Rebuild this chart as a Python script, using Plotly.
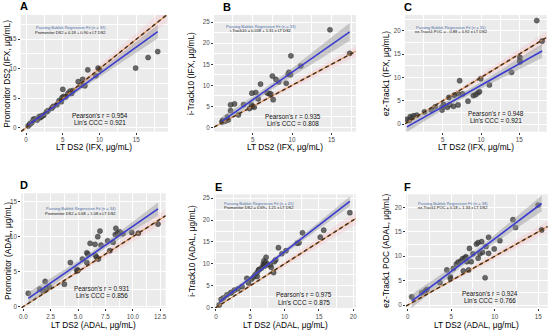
import numpy as np
import plotly.graph_objects as go

W, H = 550, 331

# ---------------- data ----------------
a_lt = [0.3, 0.5, 0.6, 0.8, 1.0, 1.2, 1.5, 1.8, 1.9, 2.0, 2.1, 2.2, 2.4, 2.8, 3.0, 3.5, 3.7, 4.2, 4.5, 4.8,
        4.9, 5.0, 5.1, 5.4, 5.7, 6.0, 6.2, 6.4, 7.1, 7.5, 7.7, 8.0, 8.4, 9.5, 9.8, 10.0, 14.9, 16.6, 17.9]
a_val = [0.3, 0.6, 0.7, 0.9, 1.4, 1.5, 1.3, 1.9, 1.7, 1.8, 2.0, 2.0, 2.1, 2.7, 2.9, 3.3, 3.6, 3.9, 4.6, 4.4,
         5.1, 6.5, 5.3, 5.2, 5.8, 6.2, 5.8, 6.3, 7.8, 7.2, 8.2, 7.1, 9.8, 8.8, 10.1, 9.9, 10.1, 11.9, 12.9]

b_lt = [1.1, 1.2, 1.5, 1.8, 1.9, 2.2, 2.2, 2.7, 3.2, 3.85, 4.6, 4.85, 4.9, 5.0, 5.2, 5.4, 5.7, 6.0, 6.85, 7.1,
        7.3, 7.5, 7.6, 7.95, 8.3, 9.25, 9.5, 9.6, 9.8, 9.85, 11.1, 14.8, 17.3]
b_val = [1.3, 1.7, 1.5, 2.5, 1.8, 4.0, 5.4, 5.6, 3.0, 5.45, 4.5, 5.4, 8.15, 5.0, 4.8, 8.3, 6.8, 10.3, 8.2, 8.0,
         8.0, 12.2, 6.6, 11.4, 10.8, 10.5, 12.6, 13.1, 12.5, 17.0, 14.6, 23.2, 17.6]

c_lt = [0.3, 0.6, 0.75, 1.0, 1.2, 1.6, 2.6, 3.5, 4.0, 4.9, 4.9, 5.1, 5.3, 5.6, 5.8, 5.9, 6.4, 6.5, 7.0, 7.0,
        7.2, 7.6, 8.3, 9.0, 9.3, 9.6, 9.8, 9.96, 11.1, 14.0, 15.1, 15.1, 15.1, 17.3, 18.0]
c_val = [1.0, 0.8, 1.6, 1.4, 1.8, 1.9, 2.6, 3.0, 3.7, 3.0, 3.6, 4.2, 3.9, 3.6, 5.7, 4.15, 3.8, 6.2, 4.1, 6.5,
         9.3, 6.45, 4.9, 6.1, 6.3, 6.7, 6.95, 9.7, 8.4, 11.1, 14.3, 13.6, 13.3, 22.2, 17.8]

d_lt = [0.46, 1.5, 1.8, 2.0, 2.1, 2.4, 3.75, 4.3, 4.9, 4.9, 5.0, 5.4, 5.8, 5.8, 5.9, 6.1, 6.55, 6.6, 6.7, 6.8,
        6.85, 7.0, 7.1, 7.7, 7.9, 8.2, 8.4, 8.45, 8.6, 8.8, 9.1, 9.9, 10.5, 12.3]
d_val = [1.9, 2.5, 2.2, 3.6, 2.6, 2.8, 3.2, 6.3, 5.3, 5.1, 5.2, 6.8, 7.7, 6.3, 7.5, 9.05, 8.9, 7.3, 7.05, 10.0,
         6.8, 10.8, 8.8, 9.4, 8.0, 9.2, 10.3, 11.2, 10.5, 10.7, 10.4, 10.6, 10.5, 11.8]

e_lt = [0.48, 0.75, 1.1, 1.6, 2.1, 2.3, 2.7, 3.2, 3.8, 4.5, 4.75, 5.2, 5.5, 5.7, 6.0, 6.0, 6.2, 6.3, 6.6, 6.9,
        6.9, 7.0, 7.1, 7.2, 7.3, 7.3, 7.5, 7.9, 8.05, 8.4, 8.5, 8.7, 9.1, 9.6, 10.2, 11.8, 12.1, 12.6, 15.2,
        15.7, 19.5]
e_val = [0.6, 1.9, 2.2, 2.9, 3.3, 3.5, 4.0, 4.3, 4.8, 6.7, 5.6, 6.55, 7.0, 7.5, 7.1, 8.0, 8.6, 8.7, 9.0, 9.6,
         10.0, 10.7, 9.5, 10.0, 11.5, 10.3, 9.8, 9.75, 9.2, 8.0, 10.5, 10.9, 13.7, 12.3, 13.0, 14.7, 14.8, 17.1,
         16.1, 17.7, 21.7]

f_lt = [0.46, 1.6, 2.0, 2.2, 3.7, 4.5, 4.9, 4.9, 5.25, 5.6, 5.8, 6.1, 6.3, 6.4, 6.6, 6.65, 6.7, 6.8, 7.0, 7.1,
        7.3, 7.5, 7.9, 8.1, 8.1, 8.3, 8.5, 8.6, 8.9, 9.0, 9.3, 9.3, 9.95, 10.6, 12.1, 12.4, 15.0, 15.4]
f_val = [1.7, 2.5, 2.9, 3.2, 4.6, 7.2, 5.8, 5.4, 7.5, 8.4, 8.8, 9.0, 9.5, 7.0, 9.6, 9.75, 9.9, 8.9, 7.2, 11.6,
         8.9, 10.5, 12.5, 12.8, 9.6, 10.5, 13.0, 10.8, 5.6, 12.0, 13.9, 10.6, 11.5, 13.2, 17.5, 15.9, 20.5, 15.4]

panel_letters = ["A", "B", "C", "D", "E", "F"]
n_labels = [39, 33, 35, 34, 41, 38]
intercepts = [0.18, 0.018, -0.88, 0.68, 0.69, 0.18]
slopes = [0.90, 1.31, 0.92, 1.08, 1.21, 1.34]
eq_labels = ["Promonitor DS2 = 0.18 + 0.90 x LT DS2",
             "i-Track10 = 0.018 + 1.31 x LT DS2",
             "ez-Track1 POC = - 0.88 + 0.92 x LT DS2",
             "Promonitor DS2 = 0.68 + 1.08 x LT DS2",
             "Promonitor DS2 = 0.69+ 1.21 x LT DS2",
             "ez-Track1 POC = 0.18 + 1.34 x LT DS2"]
pearson_r = ["0.954", "0.935", "0.948", "0.931", "0.975", "0.924"]
lins_ccc = ["0.921", "0.808", "0.921", "0.856", "0.875", "0.766"]
x_titles = ["LT DS2 (IFX, μg/mL)"] * 3 + ["LT DS2 (ADAL, μg/mL)"] * 3
y_titles = ["Promonitor DS2 (IFX, μg/mL)", "i-Track10 (IFX, μg/mL)", "ez-Track1 (IFX, μg/mL)",
            "Promonitor (ADAL, μg/mL)", "i-Track10 (ADAL, μg/mL)", "ez-Track1 POC (ADAL, μg/mL)"]
x_ticks = [[0, 5, 10, 15], [0, 5, 10, 15], [0, 5, 10, 15], [0, 2.5, 5, 7.5, 10, 12.5], [0, 5, 10, 15, 20], [0, 5, 10, 15]]
y_ticks = [[0, 5, 10, 15], [0, 5, 10, 15, 20, 25], [0, 5, 10, 15, 20], [0, 5, 10, 15], [0, 5, 10, 15, 20, 25],
           [0, 5, 10, 15, 20]]

xs_all = [a_lt, b_lt, c_lt, d_lt, e_lt, f_lt]
ys_all = [a_val, b_val, c_val, d_val, e_val, f_val]

# ---------------- layout geometry (pixels) ----------------
boxes = [(20.7, 15, 168, 131.7), (214, 15, 356, 131.7), (405, 15, 546.7, 131.7),
         (21.3, 193.3, 165.7, 308), (214, 194.3, 356, 308), (406, 194.3, 547.7, 308)]
x_ranges = [[-0.72, 19.3], [0.1, 18.1], [0.05, 18.6], [-0.18, 13.0], [-0.29, 20.4], [-0.2, 16.1]]
y_ranges = [[-0.68, 19.1], [-1.0, 26.7], [-1.65, 23.4], [-0.2, 16.2], [-0.1, 25.9], [-0.6, 22.7]]
letter_pos = [(24, 6), (226.7, 6.7), (408.3, 6.7), (24, 185), (218.3, 186.7), (407.7, 186.7)]
ytitle_x = [7.3, 191.7, 386.7, 7.3, 191.7, 385.7]
xtitle_dy = [15.5, 15.5, 15.5, 16.5, 16.5, 16.5]
pb_pos = [(0.34, 0.89, 0.852), (0.332, 0.90, 0.866), (0.325, 0.894, 0.86),
          (0.41, 0.87, 0.827), (0.316, 0.922, 0.887), (0.333, 0.922, 0.887)]
pr_pos = [(0.538, 0.14, 0.08), (0.555, 0.134, 0.074), (0.64, 0.155, 0.095),
          (0.559, 0.17, 0.108), (0.632, 0.115, 0.052), (0.594, 0.128, 0.066)]

FONT = "Liberation Sans, Arial, sans-serif"
fig = go.Figure()
annotations = []
layout = dict(width=W, height=H, margin=dict(l=0, r=0, t=0, b=0, autoexpand=False), paper_bgcolor="white",
              plot_bgcolor="#EBEBEB", showlegend=False, font=dict(family=FONT))


def note(**kw):
    base = dict(showarrow=False, xanchor="center", yanchor="middle")
    base.update(kw)
    annotations.append(base)


for i in range(6):
    k = "" if i == 0 else str(i + 1)
    xr, yr = x_ranges[i], y_ranges[i]
    l, t, r, b = boxes[i]
    x = np.array(xs_all[i], dtype=float)
    y = np.array(ys_all[i], dtype=float)
    a0, b0 = intercepts[i], slopes[i]

    # pink band around identity line
    lo = max(xr[0], yr[0]); hi = min(xr[1], yr[1])
    idx = np.linspace(lo, hi, 2)
    fig.add_trace(go.Scatter(x=np.concatenate([idx, idx[::-1]]),
                             y=np.concatenate([idx * 1.07, (idx * 0.93)[::-1]]),
                             fill="toself", fillcolor="rgba(255,170,180,0.22)", line=dict(width=0),
                             mode="lines", hoverinfo="skip", xaxis="x" + k, yaxis="y" + k))
    # points
    fig.add_trace(go.Scatter(x=x, y=y, mode="markers",
                             marker=dict(size=5.2, color="rgba(65,65,65,0.78)",
                                         line=dict(width=0.4, color="rgba(30,30,30,0.8)")),
                             xaxis="x" + k, yaxis="y" + k))
    # confidence ribbon around the regression line
    n = len(x)
    res = y - (a0 + b0 * x)
    s = np.sqrt(np.sum(res ** 2) / (n - 2))
    xbar = x.mean(); sxx = np.sum((x - xbar) ** 2)
    xs = np.linspace(x.min(), x.max(), 80)
    hw = 2.03 * s * np.sqrt(1.0 / n + (xs - xbar) ** 2 / sxx)
    c = a0 + b0 * xs
    fig.add_trace(go.Scatter(x=np.concatenate([xs, xs[::-1]]), y=np.concatenate([c + hw, (c - hw)[::-1]]),
                             fill="toself", fillcolor="rgba(150,150,150,0.45)", line=dict(width=0),
                             mode="lines", hoverinfo="skip", xaxis="x" + k, yaxis="y" + k))
    # identity line (solid tan under dark dashes)
    fig.add_trace(go.Scatter(x=idx, y=idx, mode="lines", line=dict(color="rgba(215,140,70,0.9)", width=1.1),
                             xaxis="x" + k, yaxis="y" + k))
    fig.add_trace(go.Scatter(x=idx, y=idx, mode="lines",
                             line=dict(color="#4a3018", width=1.5, dash="4px,3px"),
                             xaxis="x" + k, yaxis="y" + k))
    # Passing-Bablok line
    fig.add_trace(go.Scatter(x=xs, y=c, mode="lines", line=dict(color="#3b3bd0", width=1.6),
                             xaxis="x" + k, yaxis="y" + k))

    ax = dict(domain=[l / W, r / W], range=xr, anchor="y" + k, tickvals=x_ticks[i],
              ticktext=[("%.1f" % v) if i == 3 else ("%g" % v) for v in x_ticks[i]],
              showgrid=True, gridcolor="white", gridwidth=0.9, zeroline=False, automargin=False,
              ticks="outside", ticklen=2, tickwidth=0.8, tickcolor="#333333",
              tickfont=dict(size=6.3, color="#4D4D4D", family=FONT),
              minor=dict(tickvals=[(x_ticks[i][j] + x_ticks[i][j + 1]) / 2 for j in range(len(x_ticks[i]) - 1)]
                         + [x_ticks[i][-1] + (x_ticks[i][1] - x_ticks[i][0]) / 2],
                         showgrid=True, gridcolor="white", gridwidth=0.45, ticks=""),
              showline=False)
    ay = dict(domain=[1 - b / H, 1 - t / H], range=yr, anchor="x" + k, tickvals=y_ticks[i],
              showgrid=True, gridcolor="white", gridwidth=0.9, zeroline=False, automargin=False,
              ticks="outside", ticklen=2, tickwidth=0.8, tickcolor="#333333",
              tickfont=dict(size=6.3, color="#4D4D4D", family=FONT),
              minor=dict(tickvals=[(y_ticks[i][j] + y_ticks[i][j + 1]) / 2 for j in range(len(y_ticks[i]) - 1)]
                         + [y_ticks[i][-1] + (y_ticks[i][1] - y_ticks[i][0]) / 2],
                         showgrid=True, gridcolor="white", gridwidth=0.45, ticks=""),
              showline=False)
    layout["xaxis" + k] = ax
    layout["yaxis" + k] = ay

    xd, yd = "x" + k + " domain", "y" + k + " domain"
    px, py1, py2 = pb_pos[i]
    note(x=px, y=py1, xref=xd, yref=yd, text="Passing Bablok Regression Fit (n = %d)" % n_labels[i],
         font=dict(size=4, color="#4d6fa8", family=FONT))
    note(x=px, y=py2, xref=xd, yref=yd, text=eq_labels[i], font=dict(size=4, color="#111111", family=FONT))
    qx, qy1, qy2 = pr_pos[i]
    note(x=qx, y=qy1, xref=xd, yref=yd, text="Pearson's r = " + pearson_r[i],
         font=dict(size=6.4, color="#111", family=FONT))
    note(x=qx, y=qy2, xref=xd, yref=yd, text="Lin's CCC = " + lins_ccc[i],
         font=dict(size=6.4, color="#111", family=FONT))
    # panel letter
    lx, ly = letter_pos[i]
    note(x=lx / W, y=1 - ly / H, xref="paper", yref="paper", text="<b>%s</b>" % panel_letters[i],
         font=dict(size=11, color="black", family=FONT))
    # axis titles
    note(x=(l + r) / 2 / W, y=1 - (b + xtitle_dy[i]) / H, xref="paper", yref="paper", text=x_titles[i],
         font=dict(size=8.3, color="black", family=FONT))
    note(x=ytitle_x[i] / W, y=1 - (t + b) / 2 / H, xref="paper", yref="paper", textangle=-90, text=y_titles[i],
         font=dict(size=8.3, color="black", family=FONT))

layout["annotations"] = annotations
fig.update_layout(**layout)
fig.write_html("out.html", config={"responsive": False, "displayModeBar": False},
               post_script="document.body.style.margin='0';document.body.style.overflow='hidden';")
